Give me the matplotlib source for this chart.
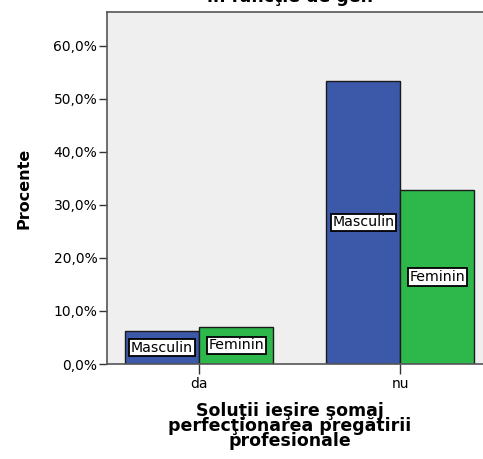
import matplotlib
matplotlib.use('Agg')
import matplotlib.pyplot as plt
import numpy as np

plt.rcParams['font.family'] = ['DejaVu Sans']

categories = ['da', 'nu']
series_names = ['Masculin', 'Feminin']
masculin = [6.2, 53.4]
feminin = [7.0, 32.8]
yticks = [0, 10, 20, 30, 40, 50, 60]
ytick_labels = ['0,0%', '10,0%', '20,0%', '30,0%', '40,0%', '50,0%', '60,0%']

BLUE = '#3C58A8'
GREEN = '#2EB84B'

fig = plt.figure(figsize=(4.83, 4.59), dpi=100)
fig.patch.set_facecolor('white')
# right edge of the frame runs off the image, like in the source export
ax = fig.add_axes([107 / 483, 95 / 459, 400 / 483, 352 / 459])
ax.set_facecolor('#EFEFEF')

x = np.arange(len(categories))
w = 0.368
bars_m = ax.bar(x - w / 2, masculin, w, color=BLUE, edgecolor='#1A1A1A', lw=1.0)
bars_f = ax.bar(x + w / 2, feminin, w, color=GREEN, edgecolor='#1A1A1A', lw=1.0)

for bars, name in [(bars_m, series_names[0]), (bars_f, series_names[1])]:
    for b in bars:
        ax.text(b.get_x() + b.get_width() / 2, b.get_height() / 2, name,
                ha='center', va='center', fontsize=10.2, color='black',
                bbox=dict(boxstyle='square,pad=0.12', fc='white', ec='black', lw=1.3))

ax.set_xlim(-0.458, 1.53)
ax.set_ylim(0, 66.4)
ax.set_xticks(x)
ax.set_xticklabels(categories, fontsize=10)
ax.set_yticks(yticks)
ax.set_yticklabels(ytick_labels, fontsize=10)
ax.tick_params(axis='y', length=6, width=1, direction='out', color='#333333', pad=1)
ax.tick_params(axis='x', length=7, width=1, direction='out', color='#333333', pad=2)

for s in ax.spines.values():
    s.set_color('#555555')
    s.set_linewidth(1.2)

ax.set_ylabel('Procente', fontsize=11.5, fontweight='bold', labelpad=16)
fig.text(290 / 483, 1 - 426 / 459,
         'Soluţii ieşire şomaj\nperfecţionarea pregătirii\nprofesionale',
         ha='center', va='center', fontsize=12.5, fontweight='bold', linespacing=0.8)
fig.text(290 / 483, 1.0 + 3.5 / 459, 'in funcţie de gen', ha='center', va='center',
         fontsize=12.5, fontweight='bold')

fig.savefig('out.png', dpi=100)
